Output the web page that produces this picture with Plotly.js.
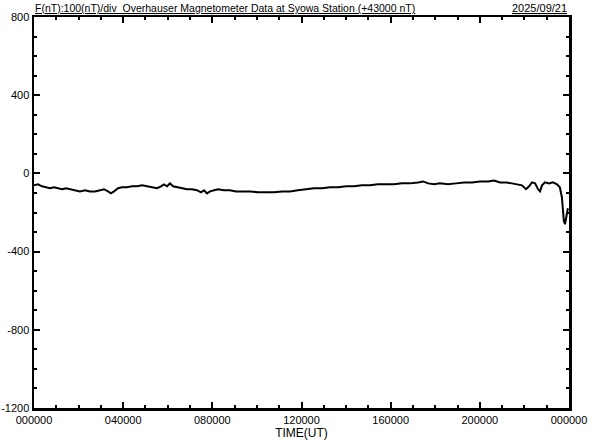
<!DOCTYPE html>
<html>
<head>
<meta charset="utf-8">
<script src="https://cdn.plot.ly/plotly-3.0.1.min.js"></script>
<style>html,body{margin:0;padding:0;background:#fff;}</style>
</head>
<body>
<div id="chart" style="width:592px;height:440px;"></div>
<script>
// Time in hours UT (0-24) and F in nT (offset from 43000 nT)
const timeHours = [0.00,0.18,0.36,0.54,0.72,0.90,1.08,1.26,1.44,1.62,1.84,2.06,2.29,2.51,2.74,2.96,3.14,3.32,3.45,3.59,3.77,3.95,4.17,4.40,4.62,4.85,5.07,5.29,5.52,5.70,5.83,5.97,6.10,6.24,6.42,6.64,6.86,7.09,7.31,7.49,7.63,7.76,7.90,8.08,8.25,8.52,8.79,9.06,9.38,9.69,10.05,10.41,10.77,11.13,11.48,11.84,12.20,12.56,12.92,13.28,13.64,14.00,14.36,14.71,15.07,15.43,15.79,16.15,16.51,16.87,17.23,17.45,17.68,17.95,18.21,18.57,18.93,19.29,19.65,20.01,20.37,20.64,20.91,21.18,21.44,21.71,21.89,22.07,22.21,22.34,22.48,22.61,22.70,22.79,22.92,23.10,23.28,23.46,23.59,23.68,23.73,23.77,23.82,23.86,23.91,23.95];
const fValues = [-61,-56,-66,-71,-76,-71,-76,-81,-76,-81,-86,-92,-86,-92,-92,-86,-81,-92,-102,-92,-76,-71,-71,-66,-66,-61,-66,-71,-76,-66,-56,-66,-51,-66,-71,-76,-81,-81,-86,-97,-86,-102,-92,-86,-81,-86,-86,-92,-92,-92,-97,-97,-97,-92,-92,-86,-81,-76,-76,-71,-71,-66,-66,-61,-61,-56,-56,-56,-51,-51,-46,-41,-51,-56,-51,-56,-51,-46,-46,-41,-41,-36,-46,-46,-51,-56,-61,-81,-66,-46,-51,-81,-92,-61,-46,-51,-46,-56,-71,-122,-193,-244,-260,-234,-198,-178];

const xTickVals = [0,4,8,12,16,20,24];
const xTickText = ['000000','040000','080000','120000','160000','200000','000000'];
const xMinorVals = [0,1,2,3,4,5,6,7,8,9,10,11,12,13,14,15,16,17,18,19,20,21,22,23,24];
const yTickVals = [800,400,0,-400,-800,-1200];
const yTickText = ['800','400','0','-400','-800','-1200'];
const yMinorVals = [800,700,600,500,400,300,200,100,0,-100,-200,-300,-400,-500,-600,-700,-800,-900,-1000,-1100,-1200];

const titleText = 'F(nT):100(nT)/div  Overhauser Magnetometer Data at Syowa Station (+43000 nT)';
const dateText = '2025/09/21';

const FONT = 'Liberation Sans, Arial, sans-serif';

const trace = {
  x: timeHours, y: fValues, type: 'scatter', mode: 'lines',
  line: {color: '#000', width: 2}, hoverinfo: 'skip', showlegend: false
};

const axisCommon = {
  showgrid: false, zeroline: false, showline: true, linecolor: '#000', linewidth: 2.5,
  mirror: 'ticks', ticks: 'inside', ticklen: 6, tickwidth: 2, tickcolor: '#000',
  tickfont: {family: FONT, size: 11, color: '#000'}, tickmode: 'array'
};

const layout = {
  width: 592, height: 440,
  margin: {l: 34, r: 23, t: 17, b: 32, pad: 0},
  paper_bgcolor: '#fff', plot_bgcolor: '#fff',
  font: {family: FONT, color: '#000'},
  xaxis: Object.assign({}, axisCommon, {
    range: [0, 24], tickvals: xTickVals, ticktext: xTickText,
    minor: {tickmode: 'array', tickvals: xMinorVals, ticks: 'inside', ticklen: 3, tickwidth: 2, tickcolor: '#000'},
    title: {text: 'TIME(UT)', font: {family: FONT, size: 12, color: '#000'}, standoff: 0}
  }),
  yaxis: Object.assign({}, axisCommon, {
    range: [-1200, 800], tickvals: yTickVals, ticktext: yTickText,
    minor: {tickmode: 'array', tickvals: yMinorVals, ticks: 'inside', ticklen: 3, tickwidth: 2, tickcolor: '#000'}
  }),
  annotations: [
    {text: '<u>' + titleText + '</u>', xref: 'paper', yref: 'paper', x: -0.002, y: 1, xanchor: 'left', yanchor: 'bottom',
     showarrow: false, font: {family: FONT, size: 10.5, color: '#000'}, yshift: 1},
    {text: '<u>' + dateText + '</u>', xref: 'paper', yref: 'paper', x: 1, y: 1, xanchor: 'right', yanchor: 'bottom',
     showarrow: false, font: {family: FONT, size: 11, color: '#000'}, yshift: 1}
  ]
};

Plotly.newPlot('chart', [trace], layout, {displayModeBar: false, staticPlot: true});
</script>
</body>
</html>
